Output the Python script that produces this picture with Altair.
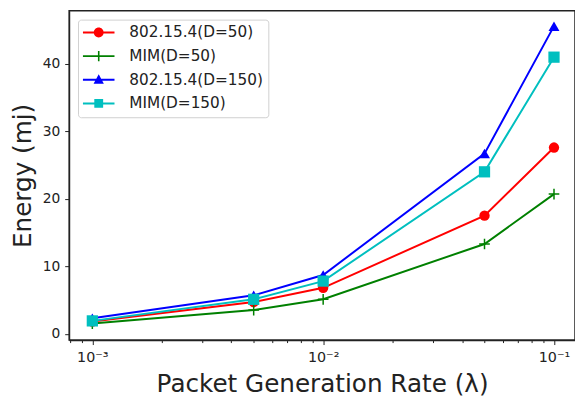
import altair as alt
import pandas as pd

# ---- data ----
rates = [0.001, 0.005, 0.01, 0.05, 0.1]
series_names = ["802.15.4(D=50)", "MIM(D=50)", "802.15.4(D=150)", "MIM(D=150)"]
ieee_d50 = [1.8, 4.7, 6.8, 17.5, 27.6]
mim_d50 = [1.5, 3.5, 5.1, 13.3, 20.7]
ieee_d150 = [2.3, 5.7, 8.7, 26.7, 45.6]
mim_d150 = [1.9, 5.1, 7.8, 24.0, 41.0]
series_values = [ieee_d50, mim_d50, ieee_d150, mim_d150]

colors = ["#ff0000", "#008000", "#0000ff", "#00bfbf"]

x_major = [0.001, 0.01, 0.1]
x_major_labels = ["10\u207b\u00b3", "10\u207b\u00b2", "10\u207b\u00b9"]
x_minor = [0.0008, 0.0009,
           0.002, 0.003, 0.004, 0.005, 0.006, 0.007, 0.008, 0.009,
           0.02, 0.03, 0.04, 0.05, 0.06, 0.07, 0.08, 0.09]
y_ticks = [0, 10, 20, 30, 40]

rows = []
for name, vals in zip(series_names, series_values):
    for r, v in zip(rates, vals):
        rows.append({"rate": r, "energy": v, "series": name})
df = pd.DataFrame(rows)

# ---- marker shapes ----
PLUS = "M-0.14,-1H0.14V-0.14H1V0.14H0.14V1H-0.14V0.14H-1V-0.14H-0.14Z"
point_shapes = ["circle", PLUS, "triangle-up", "square"]
point_sizes = [110, 130, 120, 90]

# legend symbols: line segment + marker (one filled path)
LINE = "M-1,-0.125H3V0.125H-1Z"
leg_paths = [
    LINE + "M1.625,0A0.625,0.625 0 1 1 0.375,0A0.625,0.625 0 1 1 1.625,0Z",
    LINE + "M0.9,-0.65H1.1V0.65H0.9Z",
    LINE + "M1,-0.7L1.65,0.5L0.35,0.5Z",
    LINE + "M0.44,-0.56H1.56V0.56H0.44Z",
]

major_test = "abs(log(datum.value)/LN10 - round(log(datum.value)/LN10)) < 0.01"
label_expr = ""
for v, lab in zip(x_major, x_major_labels):
    label_expr += f"abs(datum.value - {v}) < {v}*0.01 ? '{lab}' : "
label_expr += "''"

xdom = [10 ** -3.1005, 10 ** -0.909]
ydom = [-0.95, 47.88]

x_enc = alt.X(
    "rate:Q",
    scale=alt.Scale(type="log", domain=xdom, nice=False),
    axis=alt.Axis(
        title="Packet Generation Rate (\u03bb)",
        values=sorted(x_major + x_minor),
        labelExpr=label_expr,
        tickSize={"condition": {"test": major_test, "value": 4.5}, "value": 2.5},
        labelFlush=False,
        labelOverlap=False,
        labelPadding=6,
        labelFontSize=14.5,
        titlePadding=8,
        grid=False,
    ),
)
y_enc = alt.Y(
    "energy:Q",
    scale=alt.Scale(domain=ydom, nice=False, zero=False),
    axis=alt.Axis(title="Energy (mj)", values=y_ticks, grid=False,
                  tickSize=4.5, labelPadding=5, titlePadding=7),
)
color_scale = alt.Scale(domain=series_names, range=colors)

lines = alt.Chart(df).mark_line(strokeWidth=2).encode(
    x=x_enc, y=y_enc,
    color=alt.Color("series:N", scale=color_scale, legend=None),
)

points = alt.Chart(df).mark_point(filled=True, opacity=1, strokeWidth=0).encode(
    x=x_enc, y=y_enc,
    color=alt.Color("series:N", scale=color_scale, legend=None),
    shape=alt.Shape("series:N", scale=alt.Scale(domain=series_names, range=point_shapes), legend=None),
    size=alt.Size("series:N", scale=alt.Scale(domain=series_names, range=point_sizes), legend=None),
)

leg_kw = dict(
    title=None,
    orient="top-left",
    offset=9,
    padding=5,
    fillColor="white",
    strokeColor="#d0d0d0",
    cornerRadius=3,
    labelFontSize=15.5,
    labelColor="#222222",
    labelOffset=31,
    rowPadding=7,
    symbolSize=256,
    symbolStrokeWidth=0,
    symbolOpacity=1,
)

# legend-only layer: its marks sit outside the view and are clipped
legend_layer = alt.Chart(df).mark_point(filled=True, size=256, clip=True, strokeWidth=0).encode(
    x=alt.value(-2000), y=alt.value(-2000),
    color=alt.Color("series:N", scale=color_scale, legend=alt.Legend(**leg_kw)),
    shape=alt.Shape("series:N", scale=alt.Scale(domain=series_names, range=leg_paths),
                    legend=alt.Legend(**leg_kw)),
)

chart = alt.layer(lines, points, legend_layer).resolve_scale(
    color="independent", shape="independent", size="independent"
).properties(
    width=513,
    height=334,
    autosize=alt.AutoSizeParams(type="none"),
    padding={"left": 62, "top": 0, "right": 0, "bottom": 62},
).configure(
    font="DejaVu Sans",
).configure_view(
    stroke="#222222", strokeWidth=1.5,
).configure_axis(
    labelFontSize=14,
    labelColor="#222222",
    titleFontSize=25,
    titleFontWeight="normal",
    titleColor="#222222",
    domainColor="#222222",
    domainWidth=1.2,
    tickColor="#222222",
    tickWidth=1,
)

chart.save("out.html", embed_options={"renderer": "svg", "actions": False})
